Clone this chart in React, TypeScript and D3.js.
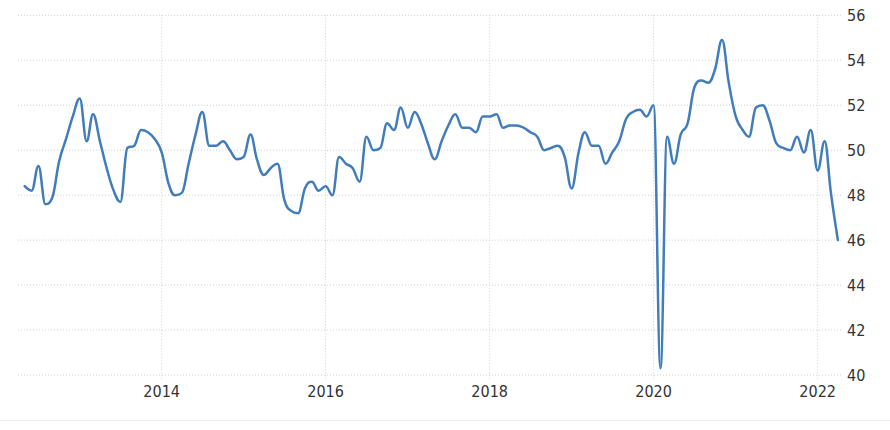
import React from "react";
import * as d3 from "d3";

// Monthly index values, May 2012 – April 2022
const firstMonth = new Date(2012, 4, 1);
const values2012 = [48.4, 48.2, 49.3, 47.6, 47.9, 49.5, 50.5, 51.5];
const values2013 = [52.3, 50.4, 51.6, 50.4, 49.2, 48.2, 47.7, 50.1, 50.2, 50.9, 50.8, 50.5];
const values2014 = [49.9, 48.5, 48.0, 48.1, 49.4, 50.7, 51.7, 50.2, 50.2, 50.4, 50.0, 49.6];
const values2015 = [49.7, 50.7, 49.6, 48.9, 49.2, 49.4, 47.8, 47.3, 47.2, 48.3, 48.6, 48.2];
const values2016 = [48.4, 48.0, 49.7, 49.4, 49.2, 48.6, 50.6, 50.0, 50.1, 51.2, 50.9, 51.9];
const values2017 = [51.0, 51.7, 51.2, 50.3, 49.6, 50.4, 51.1, 51.6, 51.0, 51.0, 50.8, 51.5];
const values2018 = [51.5, 51.6, 51.0, 51.1, 51.1, 51.0, 50.8, 50.6, 50.0, 50.1, 50.2, 49.7];
const values2019 = [48.3, 49.9, 50.8, 50.2, 50.2, 49.4, 49.9, 50.4, 51.4, 51.7, 51.8, 51.5];
const values2020 = [52.0, 40.3, 50.6, 49.4, 50.7, 51.2, 52.8, 53.1, 53.0, 53.6, 54.9, 53.0];
const values2021 = [51.5, 50.9, 50.6, 51.9, 52.0, 51.3, 50.3, 50.1, 50.0, 50.6, 49.9, 50.9];
const values2022 = [49.1, 50.4, 48.1, 46.0];

const yTicks = [40, 42, 44, 46, 48, 50, 52, 54, 56];
const xTickYears = [2014, 2016, 2018, 2020, 2022];

const allValues = [
  ...values2012, ...values2013, ...values2014, ...values2015, ...values2016,
  ...values2017, ...values2018, ...values2019, ...values2020, ...values2021, ...values2022,
];
const data = allValues.map((v, i) => ({ date: d3.timeMonth.offset(firstMonth, i), value: v }));

const W = 890;
const H = 430;
const FONT = "'Liberation Sans Narrow', 'DejaVu Sans Condensed', 'Liberation Sans', sans-serif";

// Spline path through scaled points (smoothing with extremum clamping)
function splinePath(pts: [number, number][]): string {
  const s = 1.5;
  const den = s + 1;
  let d = "";
  let prevRX = 0;
  let prevRY = 0;
  pts.forEach((p, i) => {
    const [px, py] = p;
    if (i === 0) {
      d += `M${px},${py}`;
      prevRX = px;
      prevRY = py;
      return;
    }
    const [lx, ly] = pts[i - 1];
    let lcx = px, lcy = py, rcx = px, rcy = py;
    if (i < pts.length - 1) {
      const [nx, ny] = pts[i + 1];
      lcx = (s * px + lx) / den;
      lcy = (s * py + ly) / den;
      rcx = (s * px + nx) / den;
      rcy = (s * py + ny) / den;
      if (rcx !== lcx) {
        const corr = ((rcy - lcy) * (rcx - px)) / (rcx - lcx) + py - rcy;
        lcy += corr;
        rcy += corr;
        if (lcy > ly && lcy > py) { lcy = Math.max(ly, py); rcy = 2 * py - lcy; }
        else if (lcy < ly && lcy < py) { lcy = Math.min(ly, py); rcy = 2 * py - lcy; }
        if (rcy > ny && rcy > py) { rcy = Math.max(ny, py); lcy = 2 * py - rcy; }
        else if (rcy < ny && rcy < py) { rcy = Math.min(ny, py); lcy = 2 * py - rcy; }
      }
    }
    d += `C${prevRX},${prevRY},${lcx},${lcy},${px},${py}`;
    prevRX = rcx;
    prevRY = rcy;
  });
  return d;
}

export default function App() {
  const x = d3.scaleTime().domain([new Date(2012, 3, 1), new Date(2022, 4, 1)]).range([18, 844.6]);
  const y = d3.scaleLinear().domain([40, 56]).range([375, 15.3]);
  const pts: [number, number][] = data.map((d) => [x(d.date), y(d.value)]);

  return (
    <svg width={W} height={H} style={{ position: "absolute", left: 0, top: 0, background: "#fff" }}>
      <g>
        {yTicks.map((t) => (
          <line key={"h" + t} x1={18} x2={843} y1={y(t)} y2={y(t)} stroke="#d0d0d0" strokeWidth={1} strokeDasharray="1,2" />
        ))}
        {xTickYears.map((yr) => (
          <line key={"v" + yr} x1={x(new Date(yr, 0, 1))} x2={x(new Date(yr, 0, 1))} y1={y(56)} y2={380} stroke="#d0d0d0" strokeWidth={1} strokeDasharray="1,2" />
        ))}
      </g>
      <path d={splinePath(pts)} fill="none" stroke="#417dba" strokeWidth={2.5} strokeLinejoin="round" strokeLinecap="round" />
      <g fontFamily={FONT} fontSize={16} fill="#333">
        {yTicks.map((t) => (
          <text key={"yl" + t} x={847} y={y(t)} dy="0.36em" textAnchor="start">{t}</text>
        ))}
        {xTickYears.map((yr) => (
          <text key={"xl" + yr} x={x(new Date(yr, 0, 1))} y={397} textAnchor="middle">{yr}</text>
        ))}
      </g>
      <line x1={0} x2={W} y1={420.5} y2={420.5} stroke="#eeeeee" strokeWidth={1} />
    </svg>
  );
}
